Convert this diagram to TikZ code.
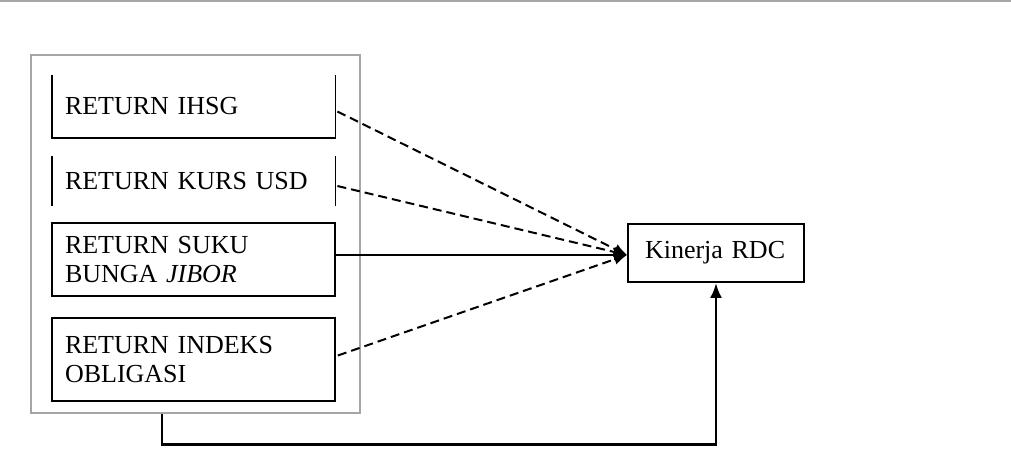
\documentclass[tikz,border=0pt]{standalone}
\usepackage{fontspec}
\setmainfont{Liberation Serif}
\usetikzlibrary{arrows.meta,calc}

\tikzset{
  varbox/.style={rectangle, minimum height=#1, text width=128.5pt,
    inner xsep=6.5pt, inner ysep=0pt, align=left,
    font=\fontsize{13}{14.2}\selectfont},
  edge/.style={line width=0.9pt},
  grpbox/.style={rectangle, draw=gray!70, line width=1.3pt,
    minimum width=164.5pt, minimum height=179pt, inner sep=0pt},
  kinbox/.style={rectangle, draw, line width=1pt, minimum width=88pt,
    minimum height=29pt, text width=71pt, inner xsep=8.5pt, align=left,
    font=\fontsize{13}{14.2}\selectfont},
  link/.style={line width=0.8pt, -{Latex[length=6.5pt,width=5.5pt]}},
  dashlink/.style={link, line width=1pt, dash pattern=on 4.5pt off 2.5pt}
}

\begin{document}
\begin{tikzpicture}[x=0.5pt,y=-0.5pt]
\useasboundingbox (0,0) rectangle (1011,475);
\draw[gray!70, line width=1.2pt] (0,1) -- (1011,1);

% group of variables
\node[grpbox] (grp) at (195.5,234) {};

\node[varbox=31.5pt] (ihsg) at (193.5,106.5) {RETURN IHSG};
\draw[edge] (ihsg.north west) -- (ihsg.south west) -- (ihsg.south east) -- (ihsg.north east);

\node[varbox=25pt] (kurs) at (193.5,181) {RETURN KURS USD};
\draw[edge] (kurs.north west) -- (kurs.south west);
\draw[edge] (kurs.north east) -- (kurs.south east);

\node[varbox=36.5pt, draw, edge] (jibor) at (193.5,259.5) {RETURN SUKU\\BUNGA \textit{JIBOR}};
\node[varbox=41.5pt, draw, edge] (indeks) at (193.5,359.5) {RETURN INDEKS\\OBLIGASI};

\node[kinbox] (kin) at (716,253) {Kinerja RDC};
\coordinate (hub) at ($(kin.west)+(0,2)$);

\draw[dashlink] ($(ihsg.east)+(2,5)$) -- (hub);
\draw[dashlink] ($(kurs.east)+(2,5)$) -- (hub);
\draw[link] (jibor.east |- hub) -- (hub);
\draw[dashlink] ($(indeks.east)+(2,-4)$) -- (hub);

\draw[link, line width=1.2pt, -{Latex[length=7.5pt,width=6pt]}] ($(grp.south)+(-33.5,0)$) -- ++(0,30) -| (kin.south);
\end{tikzpicture}
\end{document}
